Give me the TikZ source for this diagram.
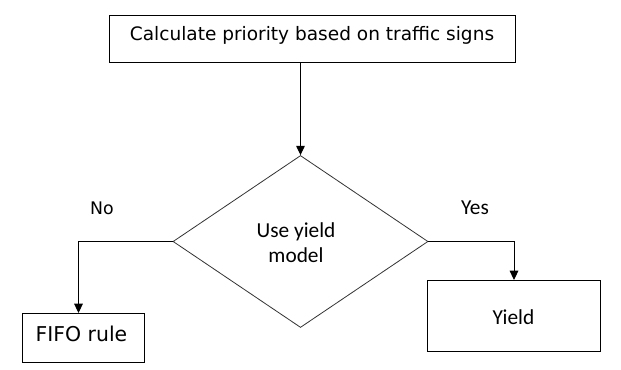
\documentclass[tikz,border=0pt]{standalone}
\usepackage{fontspec}
\setmainfont{Carlito}
\newfontfamily\tah{DejaVu Sans}
\usetikzlibrary{shapes.geometric,arrows.meta}
\tikzset{
  box/.style={draw=black,line width=0.75pt,inner sep=0pt,anchor=north west},
  dia/.style={draw=black!80,line width=0.6pt,shape=diamond,inner sep=0pt,aspect=1.48},
  arr/.style={draw=black,line width=0.75pt,-{Triangle[width=6.5pt,length=7pt]}},
  lbl/.style={inner sep=0pt},
  cal/.style={font=\fontsize{16}{18}\selectfont}
}
\begin{document}
\begin{tikzpicture}[x=0.75pt,y=-0.75pt]
\useasboundingbox[fill=white] (0,0) rectangle (621,370);
\node[box,minimum width=304.5pt,minimum height=35.25pt] (top) at (109,15) {};
\node[lbl,font=\tah\fontsize{13.9}{16}\selectfont] (toptxt) at (312,35.5) {Calculate priority based on traffic signs};
\node[dia,minimum width=191.25pt,minimum height=129pt] (dia) at (300.5,241.5) {};
\node[lbl,cal,align=center] (diatxt) at (296,243) {Use yield\\[1pt]model};
\node[box,minimum width=91.5pt,minimum height=36.75pt] (fifo) at (22,313) {};
\node[lbl,font=\tah\fontsize{15.3}{18}\selectfont] (fifotxt) at (81.5,334) {FIFO rule};
\node[box,minimum width=129.75pt,minimum height=53.25pt] (yield) at (427,280) {};
\node[lbl,cal] (yieldtxt) at (513.5,317) {Yield};
\node[lbl,font=\tah\fontsize{13}{15}\selectfont] (no) at (102,208) {No};
\node[lbl,cal] (yes) at (475,208) {Yes};
\draw[arr] (top.south -| dia.north) -- (dia.north);
\draw[arr] (dia.west) -| ([xshift=-3.75pt]fifo.north);
\draw[arr] (dia.east) -| (yield.north);
\end{tikzpicture}
\end{document}
